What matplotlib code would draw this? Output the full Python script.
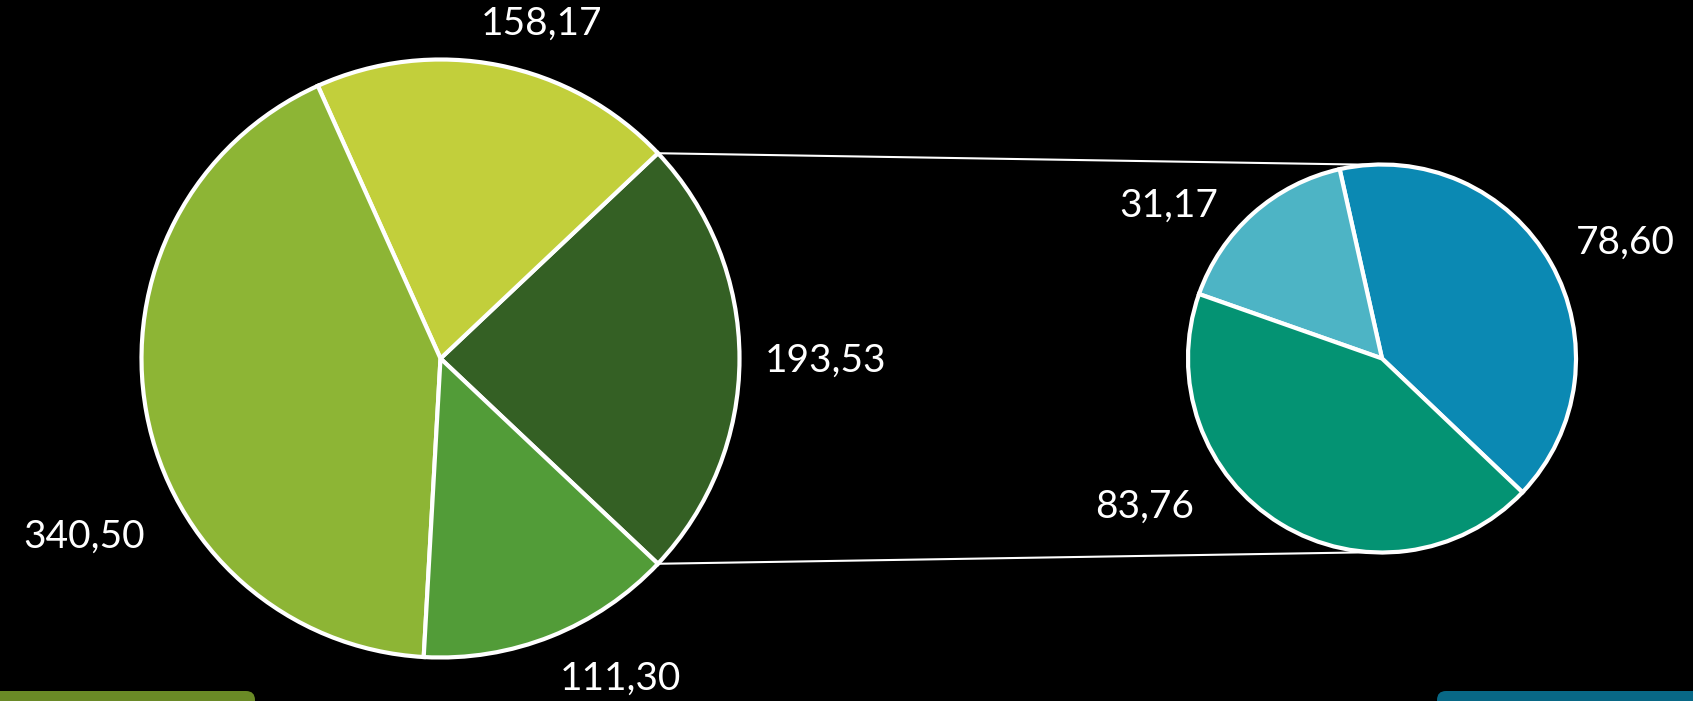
import numpy as np
import matplotlib.pyplot as plt
from matplotlib.patches import FancyBboxPatch

# main pie (counter-clockwise from the exploded slice)
main_values = [193.53, 158.17, 340.50, 111.30]
main_labels = ["193,53", "158,17", "340,50", "111,30"]
main_colors = ["#346024", "#c2cf3b", "#8db535", "#529c38"]

# breakdown of the 193,53 slice
sub_values = [78.60, 31.17, 83.76]
sub_labels = ["78,60", "31,17", "83,76"]
sub_colors = ["#0b89b3", "#4db4c5", "#049373"]

# label offsets (in radii) from each pie centre
main_offsets = [(1.289, -0.007), (0.339, 1.119), (-1.192, -0.595), (0.603, -1.072)]
sub_offsets = [(1.253, 0.595), (-1.098, 0.786), (-1.224, -0.763)]

W, H = 1693, 701
fig = plt.figure(figsize=(W / 100, H / 100), dpi=100, facecolor="black")
ax = fig.add_axes([0, 0, 1, 1])
ax.set_facecolor("black")

c1, r1 = (440.5, 342.5), 299
c2, r2 = (1382, 342.5), 194

start1 = -main_values[0] / sum(main_values) * 360 / 2
w1, _ = ax.pie(main_values, colors=main_colors, center=c1, radius=r1,
               startangle=start1, counterclock=True,
               wedgeprops=dict(edgecolor="white", linewidth=3))
start2 = -43.6
w2, _ = ax.pie(sub_values, colors=sub_colors, center=c2, radius=r2,
               startangle=start2, counterclock=True,
               wedgeprops=dict(edgecolor="white", linewidth=3))

font = dict(color="white", fontsize=28, family=["Lato", "DejaVu Sans"],
            ha="center", va="center")
for lab, (dx, dy) in zip(main_labels, main_offsets):
    ax.text(c1[0] + dx * r1, c1[1] + dy * r1, lab, **font)
for lab, (dx, dy) in zip(sub_labels, sub_offsets):
    ax.text(c2[0] + dx * r2, c2[1] + dy * r2, lab, **font)

# connector lines from the exploded slice to the small pie
for ang, sign in [(w1[0].theta2, 1), (w1[0].theta1, -1)]:
    x0 = c1[0] + r1 * np.cos(np.radians(ang))
    y0 = c1[1] + r1 * np.sin(np.radians(ang))
    ax.plot([x0, c2[0] - 15], [y0, c2[1] + sign * r2 * 0.999], color="white",
            linewidth=1.5, zorder=0)

# bottom accent bars
ax.add_patch(FancyBboxPatch((-30, -30), 285, 40, boxstyle="round,pad=0,rounding_size=9",
                            facecolor="#6a8a26", edgecolor="none"))
ax.add_patch(FancyBboxPatch((1437, -30), 300, 40, boxstyle="round,pad=0,rounding_size=9",
                            facecolor="#086886", edgecolor="none"))

ax.set_xlim(0, W)
ax.set_ylim(0, H)
ax.set_aspect("auto")
ax.axis("off")

fig.savefig("out.png", dpi=100, facecolor="black")
